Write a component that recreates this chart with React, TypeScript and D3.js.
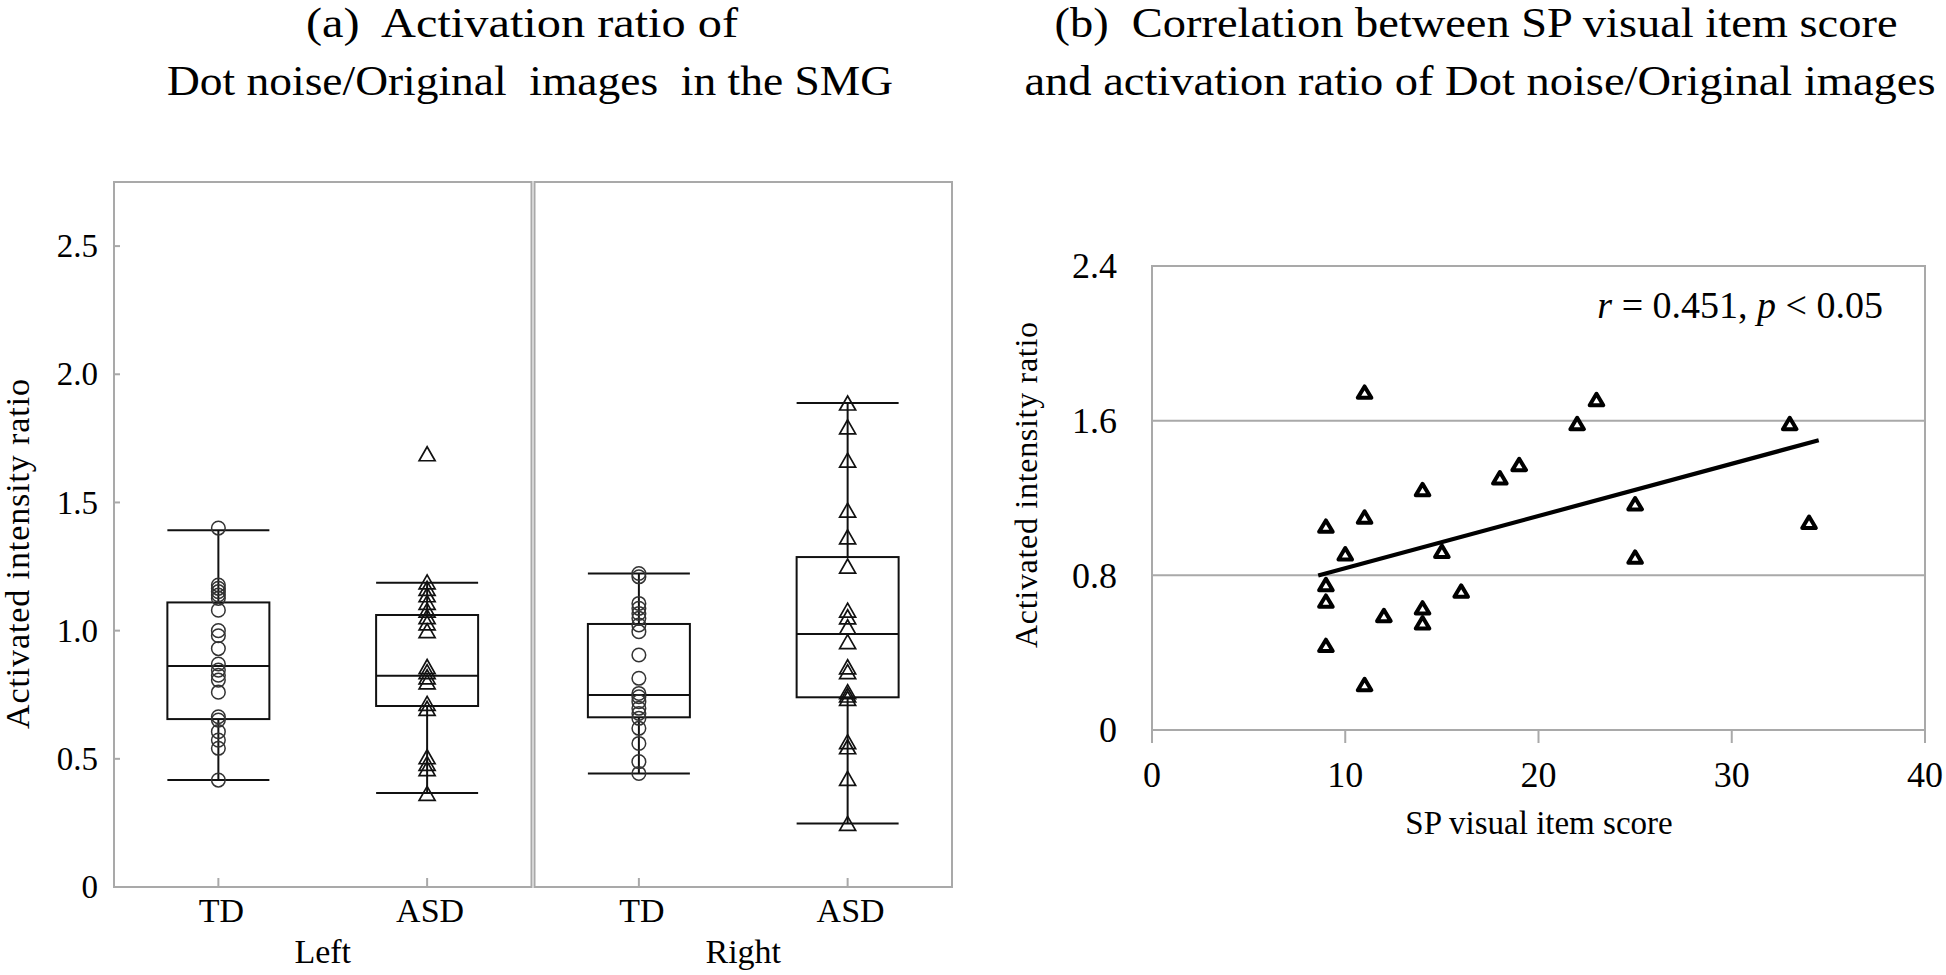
import React from "react";
import * as d3 from "d3";

const W = 1946;
const H = 975;
const FONT = '"Liberation Serif", "Times New Roman", Times, serif';
const GRAY = "#a9a9a9";

// ---------- Panel (a) data ----------
const sides = ["Left", "Right"];
const groupsA = ["TD", "ASD"];
const yTicksA = [0, 0.5, 1.0, 1.5, 2.0, 2.5];
const yTickLabelsA = ["0", "0.5", "1.0", "1.5", "2.0", "2.5"];

const leftTD = [1.40, 1.178, 1.165, 1.152, 1.139, 1.126, 1.08, 1.0, 0.98, 0.93, 0.87, 0.846, 0.826, 0.807, 0.76, 0.664, 0.651, 0.606, 0.573, 0.541, 0.417];
const leftASD = [1.69, 1.19, 1.165, 1.14, 1.11, 1.08, 1.055, 1.03, 1.0, 0.86, 0.84, 0.82, 0.80, 0.716, 0.697, 0.508, 0.482, 0.462, 0.365];
const rightTD = [1.223, 1.21, 1.106, 1.087, 1.067, 1.048, 1.022, 0.996, 0.905, 0.814, 0.755, 0.742, 0.723, 0.697, 0.677, 0.658, 0.619, 0.56, 0.489, 0.443];
const rightASD = [1.888, 1.795, 1.665, 1.47, 1.366, 1.252, 1.08, 1.054, 1.015, 0.957, 0.859, 0.84, 0.762, 0.749, 0.736, 0.567, 0.547, 0.424, 0.248];

// box statistics, order: Left-TD, Left-ASD, Right-TD, Right-ASD
const whiskerLow = [0.417, 0.367, 0.443, 0.248];
const q1 = [0.655, 0.706, 0.662, 0.740];
const median = [0.862, 0.824, 0.749, 0.987];
const q3 = [1.110, 1.061, 1.026, 1.287];
const whiskerHigh = [1.392, 1.187, 1.223, 1.888];

// ---------- Panel (b) data ----------
const scoreX = [11, 14, 11, 9, 10, 15, 9, 9, 12, 14, 14, 16, 9, 11, 18, 19, 22, 23, 33, 25, 25, 34];
const ratioY = [1.745, 1.241, 1.099, 1.052, 0.909, 0.922, 0.75, 0.664, 0.59, 0.629, 0.552, 0.716, 0.435, 0.233, 1.302, 1.371, 1.583, 1.707, 1.583, 1.168, 0.892, 1.072];
const xTicksB = [0, 10, 20, 30, 40];
const yTicksB = [0, 0.8, 1.6, 2.4];
const yTickLabelsB = ["0", "0.8", "1.6", "2.4"];
const trendIntercept = 0.567;
const trendSlope = 0.027;
const trendRange = [8.6, 34.5];

const seriesA = [
  { side: "Left", group: "TD", values: leftTD },
  { side: "Left", group: "ASD", values: leftASD },
  { side: "Right", group: "TD", values: rightTD },
  { side: "Right", group: "ASD", values: rightASD },
];

function triPath(hw: number, top: number, bottom: number) {
  const p = d3.path();
  p.moveTo(0, top);
  p.lineTo(hw, bottom);
  p.lineTo(-hw, bottom);
  p.closePath();
  return p.toString();
}

const pre = { whiteSpace: "pre" as const };

export default function App() {
  // Panel (a) scales
  const yA = d3.scaleLinear().domain([0, 2.75]).range([887, 182]);
  const sideScale = d3.scaleBand<string>().domain(sides).range([114, 952]).paddingInner(0.0072);
  const bw = sideScale.bandwidth();
  const catScale = (side: string) =>
    d3.scaleBand<string>().domain(groupsA).range([sideScale(side)!, sideScale(side)! + bw]);
  const boxW = 102;

  // Panel (b) scales
  const xB = d3.scaleLinear().domain([0, 40]).range([1152, 1925]);
  const yB = d3.scaleLinear().domain([0, 2.4]).range([730, 266]);

  const triA = triPath(8, -7, 7);
  const triB = triPath(6.8, -6.2, 5.2);

  const trendLine = d3
    .line<number>()
    .x((d) => xB(d))
    .y((d) => yB(trendIntercept + trendSlope * d));

  return (
    <svg
      width={W}
      height={H}
      viewBox={`0 0 ${W} ${H}`}
      style={{ position: "absolute", left: 0, top: 0, background: "#fff" }}
      fontFamily={FONT}
    >
      <rect x={0} y={0} width={W} height={H} fill="#fff" />

      {/* Titles */}
      <text x={522} y={37} fontSize={42} textAnchor="middle" textLength={432} lengthAdjust="spacingAndGlyphs" fill="#000" style={pre}>
        {"(a)  Activation ratio of"}
      </text>
      <text x={530} y={95} fontSize={42} textAnchor="middle" textLength={726} lengthAdjust="spacingAndGlyphs" fill="#000" style={pre}>
        {"Dot noise/Original  images  in the SMG"}
      </text>
      <text x={1476} y={37} fontSize={42} textAnchor="middle" textLength={843} lengthAdjust="spacingAndGlyphs" fill="#000" style={pre}>
        {"(b)  Correlation between SP visual item score"}
      </text>
      <text x={1480} y={95} fontSize={42} textAnchor="middle" textLength={911} lengthAdjust="spacingAndGlyphs" fill="#000" style={pre}>
        {"and activation ratio of Dot noise/Original images"}
      </text>

      {/* ---------- Panel (a) ---------- */}
      {sides.map((side) => {
        const x0 = sideScale(side)!;
        const cs = catScale(side);
        return (
          <g key={side}>
            <rect x={x0} y={yA(2.75)} width={bw} height={yA(0) - yA(2.75)} fill="none" stroke={GRAY} strokeWidth={2} />
            {groupsA.map((g) => {
              const cx = cs(g)! + cs.bandwidth() / 2;
              return (
                <g key={g}>
                  <line x1={cx} x2={cx} y1={yA(0)} y2={yA(0) - 9} stroke={GRAY} strokeWidth={2} />
                  <text x={cx + 3} y={922} fontSize={34} textAnchor="middle" fill="#000">
                    {g}
                  </text>
                </g>
              );
            })}
            <text x={x0 + bw / 2} y={963} fontSize={34} textAnchor="middle" fill="#000">
              {side}
            </text>
          </g>
        );
      })}

      {/* y axis (a) */}
      {yTicksA.map((t, i) => (
        <g key={t}>
          {i > 0 && <line x1={sideScale("Left")!} x2={sideScale("Left")! + 6} y1={yA(t)} y2={yA(t)} stroke={GRAY} strokeWidth={2} />}
          <text x={98} y={yA(t)} dy="0.34em" fontSize={33} textAnchor="end" fill="#000">
            {yTickLabelsA[i]}
          </text>
        </g>
      ))}
      <text transform={`translate(29,554) rotate(-90)`} fontSize={34} textAnchor="middle" textLength={350} lengthAdjust="spacing" fill="#000">
        Activated intensity ratio
      </text>

      {/* boxes */}
      {seriesA.map((s, i) => {
        const cs = catScale(s.side);
        const cx = cs(s.group)! + cs.bandwidth() / 2;
        const xl = cx - boxW / 2;
        return (
          <g key={s.side + s.group} stroke="#111" strokeWidth={2} fill="none">
            <line x1={cx} x2={cx} y1={yA(whiskerLow[i])} y2={yA(q1[i])} />
            <line x1={cx} x2={cx} y1={yA(q3[i])} y2={yA(whiskerHigh[i])} />
            <line x1={xl} x2={xl + boxW} y1={yA(whiskerLow[i])} y2={yA(whiskerLow[i])} />
            <line x1={xl} x2={xl + boxW} y1={yA(whiskerHigh[i])} y2={yA(whiskerHigh[i])} />
            <rect x={xl} y={yA(q3[i])} width={boxW} height={yA(q1[i]) - yA(q3[i])} />
            <line x1={xl} x2={xl + boxW} y1={yA(median[i])} y2={yA(median[i])} />
            {s.values.map((v, j) =>
              s.group === "TD" ? (
                <circle key={j} cx={cx} cy={yA(v)} r={6.8} stroke="#333" strokeWidth={1.5} />
              ) : (
                <path key={j} d={triA} transform={`translate(${cx},${yA(v)})`} stroke="#111" strokeWidth={1.7} />
              )
            )}
          </g>
        );
      })}

      {/* ---------- Panel (b) ---------- */}
      {yTicksB.slice(1, 3).map((t) => (
        <line key={t} x1={xB(0)} x2={xB(40)} y1={yB(t)} y2={yB(t)} stroke={GRAY} strokeWidth={2} />
      ))}
      <rect x={xB(0)} y={yB(2.4)} width={xB(40) - xB(0)} height={yB(0) - yB(2.4)} fill="none" stroke={GRAY} strokeWidth={2} />
      {xTicksB.map((t) => (
        <g key={t}>
          <line x1={xB(t)} x2={xB(t)} y1={yB(0)} y2={yB(0) + 13} stroke={GRAY} strokeWidth={2} />
          <text x={xB(t)} y={787} fontSize={36} textAnchor="middle" fill="#000">
            {t}
          </text>
        </g>
      ))}
      {yTicksB.map((t, i) => (
        <text key={t} x={1117} y={yB(t)} dy="0.34em" fontSize={36} textAnchor="end" fill="#000">
          {yTickLabelsB[i]}
        </text>
      ))}
      <text transform={`translate(1037,485) rotate(-90)`} fontSize={32} textAnchor="middle" textLength={326} lengthAdjust="spacing" fill="#000">
        Activated intensity ratio
      </text>
      <text x={1539} y={834} fontSize={33} textAnchor="middle" fill="#000">
        SP visual item score
      </text>
      <text x={1883} y={318} fontSize={38} textAnchor="end" fill="#000">
        <tspan fontStyle="italic">r</tspan> = 0.451, <tspan fontStyle="italic">p</tspan> &lt; 0.05
      </text>

      <path d={trendLine(trendRange) || ""} stroke="#000" strokeWidth={4.2} fill="none" />
      {scoreX.map((x, i) => (
        <path
          key={i}
          d={triB}
          transform={`translate(${xB(x)},${yB(ratioY[i])})`}
          fill="#fff"
          stroke="#000"
          strokeWidth={4}
          strokeLinejoin="round"
        />
      ))}
    </svg>
  );
}
